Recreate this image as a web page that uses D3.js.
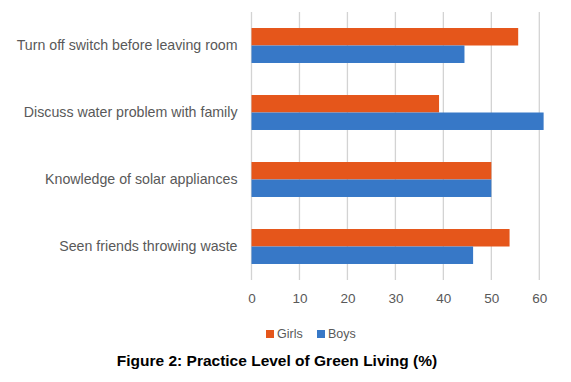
<!DOCTYPE html>
<html>
<head>
<meta charset="utf-8">
<script src="https://cdn.jsdelivr.net/npm/d3@7"></script>
<style>
  body { margin: 0; background: #fff; }
  svg { display: block; }
  .tick text { font-family: "Liberation Sans", Arial, sans-serif; fill: #595959; }
</style>
</head>
<body>
<svg id="chart" width="571" height="382"></svg>
<script>
// Values (percent)
const categories = [
  'Turn off switch before leaving room',
  'Discuss water problem with family',
  'Knowledge of solar appliances',
  'Seen friends throwing waste'
];
const girls = [55.6, 39.1, 50.0, 53.8];
const boys  = [44.4, 60.9, 50.0, 46.2];
const series = ['Girls', 'Boys'];
const xTicks = [0, 10, 20, 30, 40, 50, 60];

const COLORS = { Girls: '#E5561B', Boys: '#3778C7' };

const W = 571, H = 382;
const M = { top: 12, right: 28, bottom: 102, left: 251.5 };
const plotW = 539.3 - M.left;
const plotH = H - M.top - M.bottom;

const svg = d3.select('#chart');
const g = svg.append('g').attr('transform', `translate(${M.left},${M.top})`);

const x = d3.scaleLinear().domain([0, 60]).range([0, plotW]);
const y = d3.scaleBand().domain(categories).range([0, plotH])
  .paddingInner(0.478).paddingOuter(0.239);
const ySub = d3.scaleBand().domain(series).range([0, y.bandwidth()]);

// gridlines
g.append('g')
  .selectAll('line')
  .data(xTicks)
  .join('line')
  .attr('x1', d => x(d)).attr('x2', d => x(d))
  .attr('y1', 0).attr('y2', plotH)
  .attr('stroke', '#d3d3d3')
  .attr('stroke-width', 1.3);

// bars
const rows = categories.map((c, i) => ({ c, vals: [
  { s: 'Girls', v: girls[i] },
  { s: 'Boys', v: boys[i] }
]}));

const grp = g.append('g').selectAll('g')
  .data(rows)
  .join('g')
  .attr('transform', d => `translate(0,${y(d.c)})`);

grp.selectAll('rect')
  .data(d => d.vals)
  .join('rect')
  .attr('x', x(0))
  .attr('y', d => ySub(d.s))
  .attr('width', d => x(d.v) - x(0))
  .attr('height', ySub.bandwidth())
  .attr('fill', d => COLORS[d.s]);

// x axis labels
const xAxis = g.append('g')
  .attr('transform', `translate(0,${plotH})`)
  .call(d3.axisBottom(x).tickValues(xTicks).tickSize(0).tickPadding(13));
xAxis.select('.domain').remove();
xAxis.selectAll('text').style('font-size', '13.5px');

// category labels
const yAxis = g.append('g')
  .call(d3.axisLeft(y).tickSize(0).tickPadding(14));
yAxis.select('.domain').remove();
yAxis.selectAll('text').style('font-size', '14.2px').attr('fill', '#404040');

// legend
const legend = svg.append('g').attr('transform', 'translate(266,334)');
const legX = { Girls: 0, Boys: 51 };
series.forEach(s => {
  const lg = legend.append('g').attr('transform', `translate(${legX[s]},0)`);
  lg.append('rect').attr('x', 0).attr('y', -4).attr('width', 8).attr('height', 8)
    .attr('fill', COLORS[s]);
  lg.append('text').attr('x', 11).attr('y', 0).attr('dy', '0.35em')
    .style('font-family', '"Liberation Sans", Arial, sans-serif')
    .style('font-size', '12.5px').attr('fill', '#595959')
    .text(s);
});

// caption
svg.append('text')
  .attr('x', 277).attr('y', 366)
  .attr('text-anchor', 'middle')
  .style('font-family', '"Liberation Sans", Arial, sans-serif')
  .style('font-weight', 'bold')
  .style('font-size', '15.5px')
  .attr('fill', '#000')
  .text('Figure 2: Practice Level of Green Living (%)');
</script>
</body>
</html>
